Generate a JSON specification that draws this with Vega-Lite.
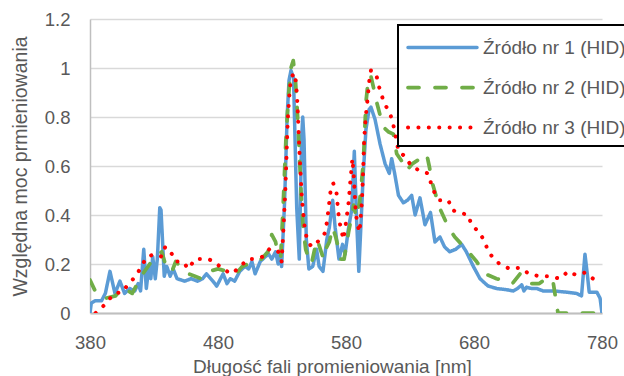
{
  "$schema": "https://vega.github.io/schema/vega-lite/v6.json",
  "width": 512,
  "height": 294,
  "autosize": {"type": "none"},
  "padding": {"left": 90, "top": 19, "right": 22, "bottom": 63},
  "background": "white",
  "config": {"view": {"stroke": null}, "font": "Liberation Sans"},
  "data": {"values": [
{"s":1,"x":380,"y":0},{"s":1,"x":381,"y":0.04},{"s":1,"x":384,"y":0.05},{"s":1,"x":389,"y":0.05},{"s":1,"x":392,"y":0.08},{"s":1,"x":395.6,"y":0.17},{"s":1,"x":399.5,"y":0.08},{"s":1,"x":403.4,"y":0.13},{"s":1,"x":407,"y":0.08},{"s":1,"x":411,"y":0.10},{"s":1,"x":415,"y":0.09},{"s":1,"x":417.6,"y":0.12},{"s":1,"x":419.5,"y":0.09},{"s":1,"x":422,"y":0.26},{"s":1,"x":424,"y":0.10},{"s":1,"x":426,"y":0.19},{"s":1,"x":427.5,"y":0.14},{"s":1,"x":429,"y":0.23},{"s":1,"x":431,"y":0.14},{"s":1,"x":432.6,"y":0.22},{"s":1,"x":434.5,"y":0.43},{"s":1,"x":435.5,"y":0.42},{"s":1,"x":438,"y":0.15},{"s":1,"x":440,"y":0.19},{"s":1,"x":442.6,"y":0.15},{"s":1,"x":445,"y":0.18},{"s":1,"x":448,"y":0.14},{"s":1,"x":454,"y":0.13},{"s":1,"x":459,"y":0.14},{"s":1,"x":464,"y":0.13},{"s":1,"x":468,"y":0.14},{"s":1,"x":471,"y":0.16},{"s":1,"x":476,"y":0.13},{"s":1,"x":479,"y":0.11},{"s":1,"x":484,"y":0.16},{"s":1,"x":487,"y":0.12},{"s":1,"x":489.6,"y":0.14},{"s":1,"x":493,"y":0.13},{"s":1,"x":497,"y":0.17},{"s":1,"x":501,"y":0.19},{"s":1,"x":504,"y":0.18},{"s":1,"x":506.5,"y":0.21},{"s":1,"x":509,"y":0.16},{"s":1,"x":513,"y":0.21},{"s":1,"x":517,"y":0.23},{"s":1,"x":519.6,"y":0.24},{"s":1,"x":522,"y":0.22},{"s":1,"x":525,"y":0.25},{"s":1,"x":527,"y":0.20},{"s":1,"x":528.4,"y":0.24},{"s":1,"x":529.7,"y":0.19},{"s":1,"x":532,"y":0.45},{"s":1,"x":534,"y":0.80},{"s":1,"x":535.5,"y":0.95},{"s":1,"x":537,"y":0.99},{"s":1,"x":539,"y":0.96},{"s":1,"x":541.5,"y":0.43},{"s":1,"x":543.5,"y":0.22},{"s":1,"x":545.3,"y":0.71},{"s":1,"x":546.2,"y":0.80},{"s":1,"x":547.2,"y":0.71},{"s":1,"x":549,"y":0.30},{"s":1,"x":551,"y":0.18},{"s":1,"x":554,"y":0.19},{"s":1,"x":557,"y":0.26},{"s":1,"x":559,"y":0.19},{"s":1,"x":562,"y":0.17},{"s":1,"x":565,"y":0.30},{"s":1,"x":567,"y":0.35},{"s":1,"x":569.6,"y":0.46},{"s":1,"x":571.5,"y":0.35},{"s":1,"x":574.5,"y":0.22},{"s":1,"x":577.3,"y":0.28},{"s":1,"x":579.3,"y":0.24},{"s":1,"x":581.8,"y":0.34},{"s":1,"x":584.4,"y":0.42},{"s":1,"x":586.5,"y":0.66},{"s":1,"x":588.3,"y":0.38},{"s":1,"x":590,"y":0.17},{"s":1,"x":591.5,"y":0.34},{"s":1,"x":593.5,"y":0.57},{"s":1,"x":595.6,"y":0.75},{"s":1,"x":598,"y":0.83},{"s":1,"x":599.5,"y":0.84},{"s":1,"x":602.7,"y":0.79},{"s":1,"x":606.6,"y":0.69},{"s":1,"x":610.5,"y":0.61},{"s":1,"x":613.8,"y":0.57},{"s":1,"x":615.7,"y":0.63},{"s":1,"x":618,"y":0.57},{"s":1,"x":621,"y":0.48},{"s":1,"x":624.8,"y":0.45},{"s":1,"x":628,"y":0.46},{"s":1,"x":631.3,"y":0.48},{"s":1,"x":634,"y":0.40},{"s":1,"x":637.8,"y":0.47},{"s":1,"x":641.7,"y":0.36},{"s":1,"x":646,"y":0.41},{"s":1,"x":649.5,"y":0.29},{"s":1,"x":653.4,"y":0.31},{"s":1,"x":657,"y":0.27},{"s":1,"x":661,"y":0.25},{"s":1,"x":665.7,"y":0.26},{"s":1,"x":670.4,"y":0.28},{"s":1,"x":674,"y":0.25},{"s":1,"x":679.5,"y":0.19},{"s":1,"x":684.7,"y":0.14},{"s":1,"x":691,"y":0.11},{"s":1,"x":697.7,"y":0.10},{"s":1,"x":705.5,"y":0.095},{"s":1,"x":710.7,"y":0.09},{"s":1,"x":714,"y":0.10},{"s":1,"x":717.3,"y":0.115},{"s":1,"x":719,"y":0.09},{"s":1,"x":721,"y":0.105},{"s":1,"x":725,"y":0.10},{"s":1,"x":729,"y":0.10},{"s":1,"x":734,"y":0.09},{"s":1,"x":742,"y":0.09},{"s":1,"x":752.4,"y":0.085},{"s":1,"x":760,"y":0.08},{"s":1,"x":764,"y":0.07},{"s":1,"x":766.7,"y":0.24},{"s":1,"x":768.5,"y":0.16},{"s":1,"x":770,"y":0.085},{"s":1,"x":776,"y":0.085},{"s":1,"x":778.5,"y":0.06},{"s":1,"x":780,"y":0},
{"s":2,"x":380,"y":0.135},{"s":2,"x":384,"y":0.09},{"s":2,"x":386,"y":0.07},{"s":2,"x":392,"y":0.06},{"s":2,"x":400,"y":0.07},{"s":2,"x":405,"y":0.10},{"s":2,"x":410,"y":0.09},{"s":2,"x":413,"y":0.08},{"s":2,"x":420,"y":0.15},{"s":2,"x":428,"y":0.21},{"s":2,"x":436,"y":0.25},{"s":2,"x":440,"y":0.18},{"s":2,"x":444,"y":0.17},{"s":2,"x":447,"y":0.21},{"s":2,"x":452,"y":0.18},{"s":2,"x":457,"y":0.16},{"s":2,"x":462,"y":0.15},{"s":2,"x":467,"y":0.14},{"s":2,"x":473,"y":0.17},{"s":2,"x":480,"y":0.18},{"s":2,"x":487,"y":0.17},{"s":2,"x":494,"y":0.16},{"s":2,"x":499,"y":0.19},{"s":2,"x":508,"y":0.21},{"s":2,"x":514,"y":0.22},{"s":2,"x":519,"y":0.25},{"s":2,"x":522,"y":0.32},{"s":2,"x":525,"y":0.29},{"s":2,"x":527,"y":0.23},{"s":2,"x":529,"y":0.23},{"s":2,"x":531,"y":0.45},{"s":2,"x":533,"y":0.70},{"s":2,"x":535,"y":0.88},{"s":2,"x":537,"y":1.00},{"s":2,"x":538.8,"y":1.03},{"s":2,"x":540.5,"y":0.95},{"s":2,"x":542,"y":0.82},{"s":2,"x":543.5,"y":0.66},{"s":2,"x":545,"y":0.48},{"s":2,"x":546.5,"y":0.35},{"s":2,"x":548.5,"y":0.26},{"s":2,"x":551,"y":0.22},{"s":2,"x":553,"y":0.20},{"s":2,"x":555.5,"y":0.26},{"s":2,"x":557.5,"y":0.30},{"s":2,"x":560,"y":0.26},{"s":2,"x":562.5,"y":0.22},{"s":2,"x":565,"y":0.27},{"s":2,"x":567,"y":0.29},{"s":2,"x":569.5,"y":0.35},{"s":2,"x":572,"y":0.31},{"s":2,"x":576,"y":0.22},{"s":2,"x":578.5,"y":0.22},{"s":2,"x":582,"y":0.33},{"s":2,"x":586,"y":0.44},{"s":2,"x":588,"y":0.39},{"s":2,"x":590.6,"y":0.45},{"s":2,"x":593.5,"y":0.61},{"s":2,"x":595.6,"y":0.86},{"s":2,"x":597.5,"y":0.96},{"s":2,"x":599.3,"y":0.97},{"s":2,"x":601.5,"y":0.92},{"s":2,"x":604,"y":0.86},{"s":2,"x":609,"y":0.76},{"s":2,"x":613,"y":0.74},{"s":2,"x":617,"y":0.73},{"s":2,"x":619.6,"y":0.65},{"s":2,"x":623.5,"y":0.62},{"s":2,"x":627,"y":0.58},{"s":2,"x":632,"y":0.61},{"s":2,"x":638,"y":0.63},{"s":2,"x":643,"y":0.65},{"s":2,"x":645,"y":0.60},{"s":2,"x":648,"y":0.52},{"s":2,"x":653,"y":0.43},{"s":2,"x":660,"y":0.35},{"s":2,"x":665,"y":0.31},{"s":2,"x":674,"y":0.26},{"s":2,"x":682,"y":0.21},{"s":2,"x":688.6,"y":0.16},{"s":2,"x":697.7,"y":0.14},{"s":2,"x":705,"y":0.13},{"s":2,"x":710,"y":0.12},{"s":2,"x":716,"y":0.16},{"s":2,"x":724,"y":0.12},{"s":2,"x":731,"y":0.12},{"s":2,"x":736,"y":0.14},{"s":2,"x":739,"y":0.145},{"s":2,"x":742,"y":0.12},{"s":2,"x":745.6,"y":0},{"s":2,"x":780,"y":0},
{"s":3,"x":384.4,"y":0},{"s":3,"x":389,"y":0.02},{"s":3,"x":394,"y":0.05},{"s":3,"x":399,"y":0.08},{"s":3,"x":405.5,"y":0.085},{"s":3,"x":410,"y":0.12},{"s":3,"x":416,"y":0.15},{"s":3,"x":420,"y":0.19},{"s":3,"x":424.7,"y":0.23},{"s":3,"x":430.8,"y":0.24},{"s":3,"x":436,"y":0.23},{"s":3,"x":438.8,"y":0.27},{"s":3,"x":443,"y":0.25},{"s":3,"x":447,"y":0.21},{"s":3,"x":452.4,"y":0.21},{"s":3,"x":457,"y":0.18},{"s":3,"x":462,"y":0.22},{"s":3,"x":467,"y":0.22},{"s":3,"x":472.5,"y":0.22},{"s":3,"x":477,"y":0.21},{"s":3,"x":483.6,"y":0.18},{"s":3,"x":490.6,"y":0.16},{"s":3,"x":497.7,"y":0.19},{"s":3,"x":503,"y":0.22},{"s":3,"x":509,"y":0.22},{"s":3,"x":515,"y":0.23},{"s":3,"x":520,"y":0.26},{"s":3,"x":525.5,"y":0.26},{"s":3,"x":528.6,"y":0.24},{"s":3,"x":529.7,"y":0.21},{"s":3,"x":531,"y":0.33},{"s":3,"x":532.6,"y":0.50},{"s":3,"x":534.5,"y":0.79},{"s":3,"x":535.6,"y":0.88},{"s":3,"x":537,"y":0.96},{"s":3,"x":539.6,"y":0.98},{"s":3,"x":541,"y":0.94},{"s":3,"x":542,"y":0.86},{"s":3,"x":543.8,"y":0.64},{"s":3,"x":545.5,"y":0.47},{"s":3,"x":547.7,"y":0.35},{"s":3,"x":549.5,"y":0.30},{"s":3,"x":553,"y":0.27},{"s":3,"x":560,"y":0.30},{"s":3,"x":564,"y":0.33},{"s":3,"x":566,"y":0.41},{"s":3,"x":568,"y":0.50},{"s":3,"x":570,"y":0.53},{"s":3,"x":572.6,"y":0.49},{"s":3,"x":574,"y":0.41},{"s":3,"x":575,"y":0.37},{"s":3,"x":578,"y":0.30},{"s":3,"x":580,"y":0.37},{"s":3,"x":582,"y":0.45},{"s":3,"x":583.6,"y":0.55},{"s":3,"x":585,"y":0.63},{"s":3,"x":586.2,"y":0.55},{"s":3,"x":587.6,"y":0.41},{"s":3,"x":589,"y":0.36},{"s":3,"x":590.6,"y":0.33},{"s":3,"x":592.5,"y":0.46},{"s":3,"x":593.5,"y":0.60},{"s":3,"x":594.3,"y":0.72},{"s":3,"x":595.6,"y":0.81},{"s":3,"x":597,"y":0.88},{"s":3,"x":598,"y":0.94},{"s":3,"x":599.5,"y":0.99},{"s":3,"x":603.4,"y":0.98},{"s":3,"x":605,"y":0.94},{"s":3,"x":607,"y":0.90},{"s":3,"x":610.5,"y":0.85},{"s":3,"x":614,"y":0.82},{"s":3,"x":616.5,"y":0.78},{"s":3,"x":619.6,"y":0.70},{"s":3,"x":621,"y":0.66},{"s":3,"x":626,"y":0.64},{"s":3,"x":631,"y":0.60},{"s":3,"x":637.8,"y":0.58},{"s":3,"x":644,"y":0.57},{"s":3,"x":647,"y":0.52},{"s":3,"x":650,"y":0.48},{"s":3,"x":653.4,"y":0.46},{"s":3,"x":660,"y":0.46},{"s":3,"x":663,"y":0.42},{"s":3,"x":668.5,"y":0.41},{"s":3,"x":675.5,"y":0.40},{"s":3,"x":678,"y":0.36},{"s":3,"x":684,"y":0.33},{"s":3,"x":688.6,"y":0.29},{"s":3,"x":691,"y":0.25},{"s":3,"x":696,"y":0.22},{"s":3,"x":700,"y":0.20},{"s":3,"x":708,"y":0.18},{"s":3,"x":716,"y":0.185},{"s":3,"x":723,"y":0.16},{"s":3,"x":731,"y":0.15},{"s":3,"x":739.4,"y":0.15},{"s":3,"x":747,"y":0.14},{"s":3,"x":753.7,"y":0.17},{"s":3,"x":759.7,"y":0.155},{"s":3,"x":766.7,"y":0.165},{"s":3,"x":773,"y":0.14}
  ]},
  "mark": {"type": "line", "strokeCap": "round", "strokeJoin": "round", "clip": true},
  "encoding": {
    "x": {
      "field": "x", "type": "quantitative",
      "scale": {"domain": [380, 780], "nice": false, "zero": false},
      "axis": {
        "values": [380, 480, 580, 680, 780],
        "title": "Długość fali promieniowania [nm]",
        "grid": false, "ticks": false,
        "domainColor": "#bfbfbf", "domainWidth": 2,
        "labelFontSize": 18.5, "labelColor": "#595959", "labelPadding": 20,
        "labelFlush": false,
        "titleFontSize": 19, "titleColor": "#595959", "titleFontWeight": "normal",
        "titlePadding": 6, "titleX": 242
      }
    },
    "y": {
      "field": "y", "type": "quantitative",
      "scale": {"domain": [0, 1.2], "nice": false},
      "axis": {
        "values": [0, 0.2, 0.4, 0.6, 0.8, 1, 1.2],
        "format": "~g",
        "title": "Względna moc prmieniowania",
        "grid": true, "gridColor": "#d9d9d9", "gridWidth": 1.5,
        "ticks": false,
        "domainColor": "#bfbfbf", "domainWidth": 1.5,
        "labelFontSize": 18.5, "labelColor": "#595959", "labelPadding": 20,
        "labelFlush": false,
        "titleFontSize": 19.5, "titleColor": "#595959", "titleFontWeight": "normal",
        "titlePadding": 14
      }
    },
    "color": {
      "field": "s", "type": "nominal",
      "scale": {"domain": [1, 2, 3], "range": ["#5b9bd5", "#70ad47", "#ff0000"]},
      "legend": {
        "title": null,
        "orient": "none", "legendX": 308, "legendY": 6,
        "labelExpr": "'Źródło nr ' + datum.label + ' (HID)'",
        "labelFontSize": 19, "labelColor": "#595959", "labelLimit": 0,
        "symbolType": "M-1,0H4.52", "symbolSize": 625, "symbolStrokeWidth": 4.5,
        "rowPadding": 15, "labelOffset": 48,
        "padding": 8, "strokeColor": "black", "fillColor": "white",
        "encode": {
          "symbols": {"update": {"strokeCap": {"value": "round"}}},
          "legend": {"update": {"strokeWidth": {"value": 2}}}
        }
      }
    },
    "strokeDash": {
      "field": "s", "type": "nominal",
      "scale": {"domain": [1, 2, 3], "range": [[1, 0], [11, 16], [0.1, 10.3]]}
    },
    "strokeWidth": {
      "field": "s", "type": "nominal",
      "scale": {"domain": [1, 2, 3], "range": [3.5, 4, 5]},
      "legend": null
    }
  }
}
